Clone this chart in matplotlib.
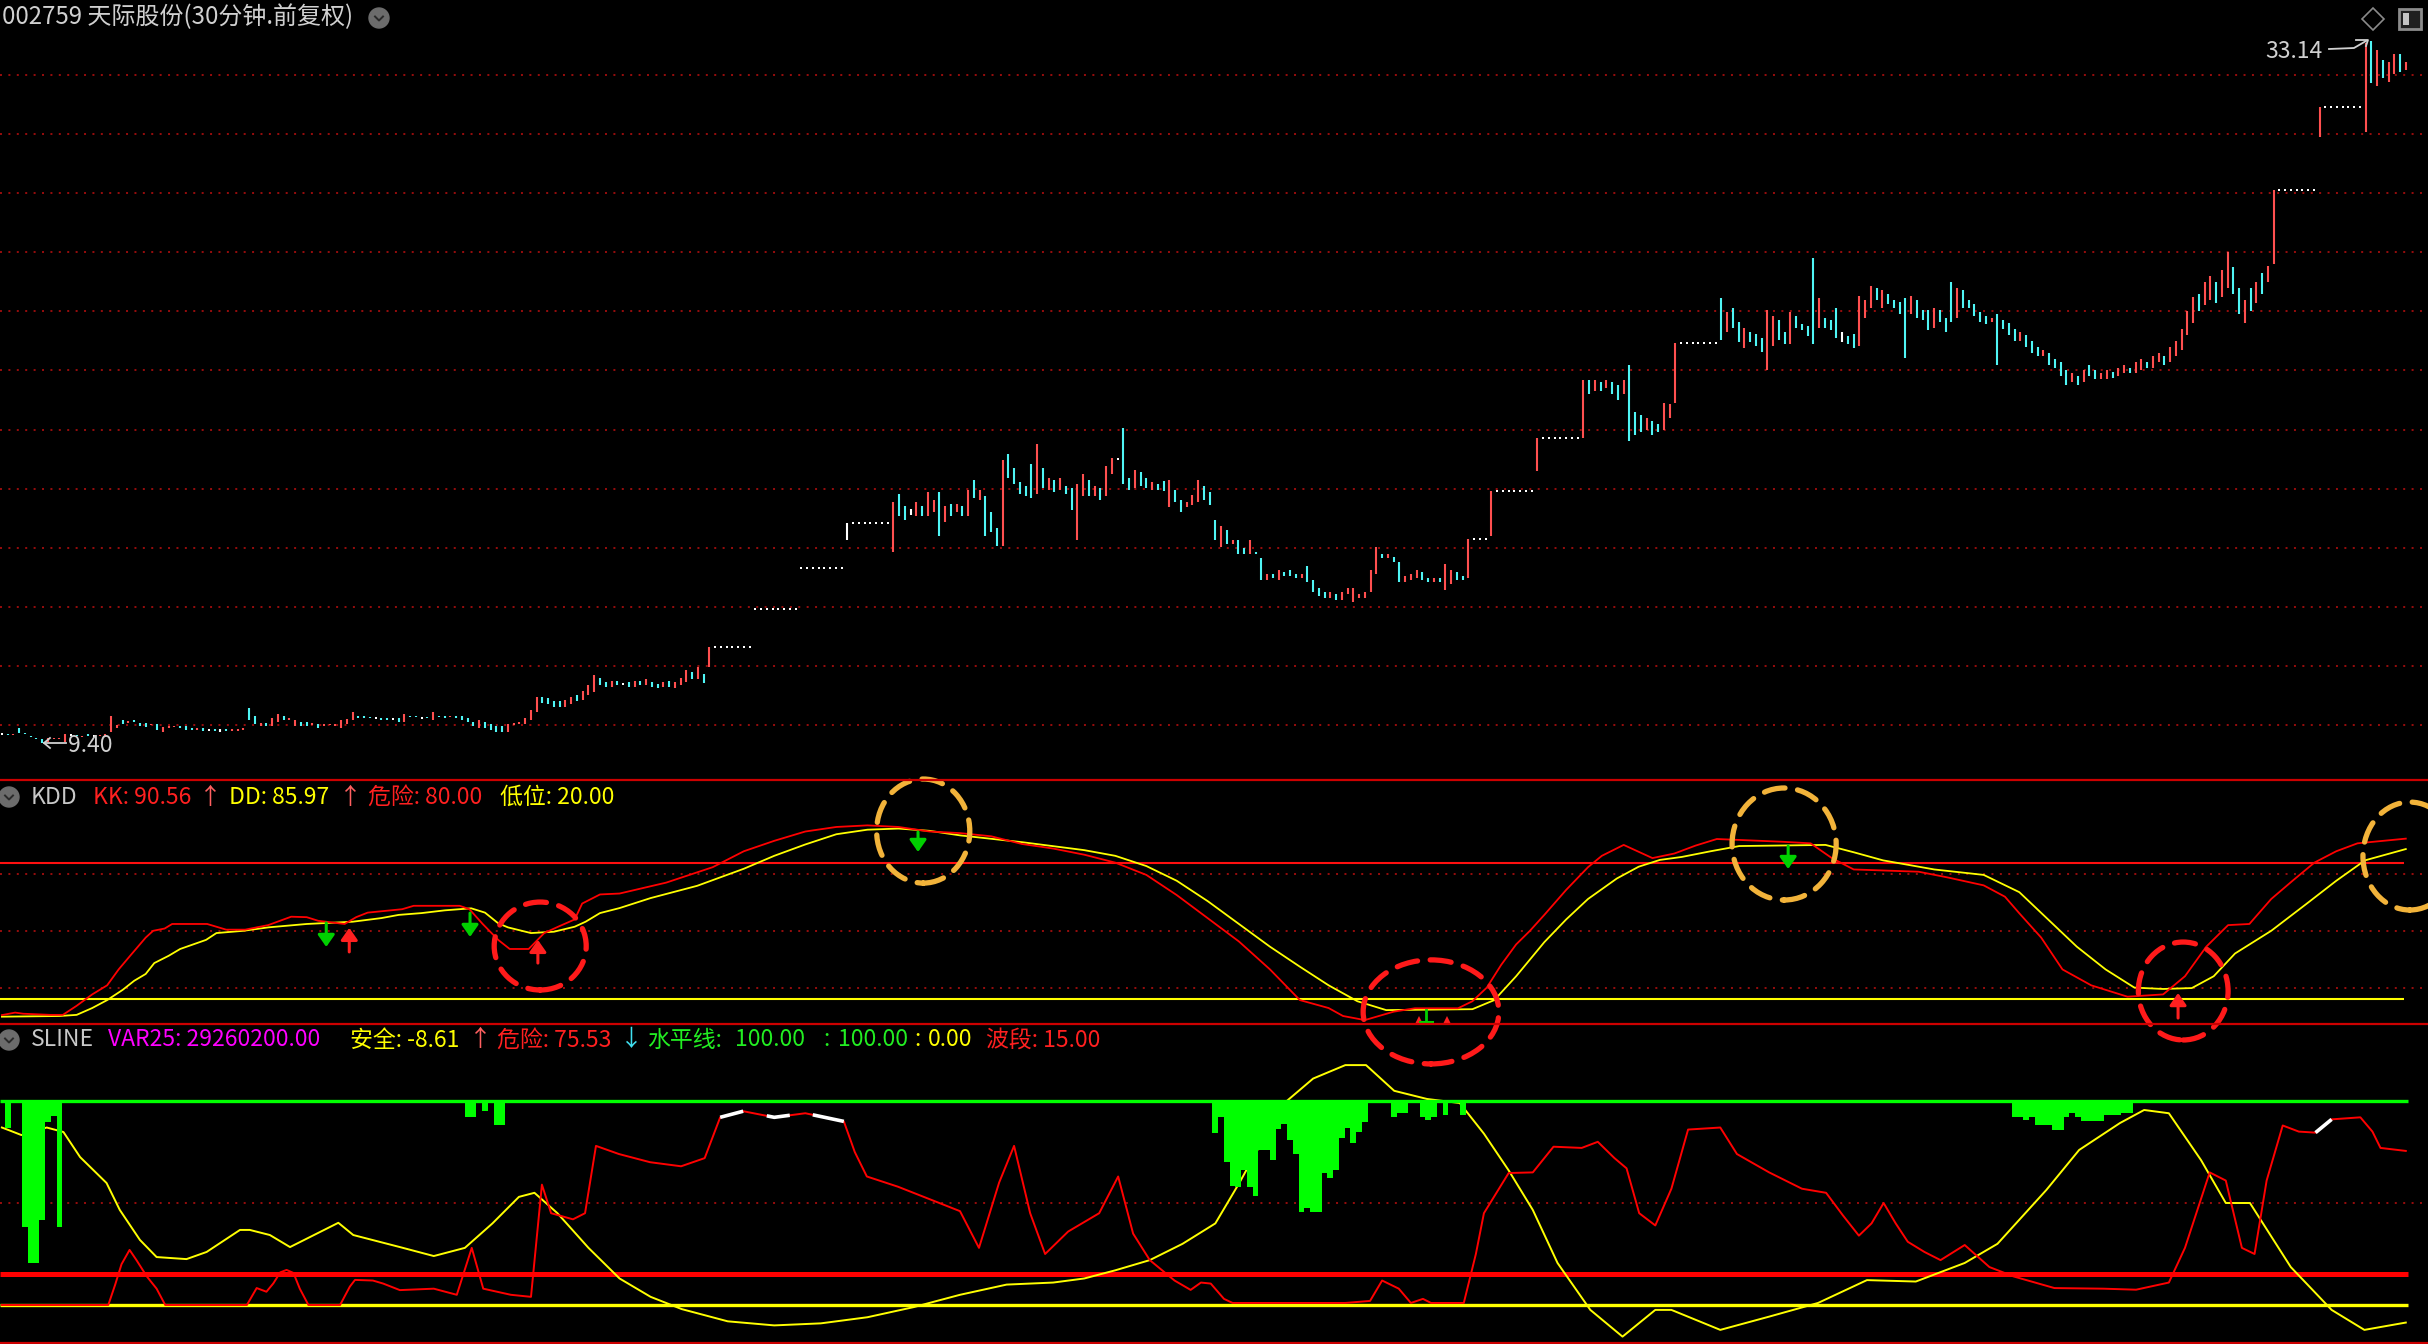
import numpy as np
import matplotlib
matplotlib.use("Agg")
import matplotlib.pyplot as plt
from matplotlib.patches import Ellipse, Circle, Polygon, Rectangle

plt.rcParams['font.family'] = ['Noto Sans CJK SC', 'DejaVu Sans']

# ---------------- data ----------------
title = "002759 天际股份(30分钟.前复权)"
price_grid = [10, 12, 14, 16, 18, 20, 22, 24, 26, 28, 30, 32]
high_label = "33.14"
low_label = "9.40"

bar_low = [
9.70,9.66,9.67,9.73,9.68,9.60,9.53,9.40,9.42,9.52,
9.53,9.42,9.65,9.62,9.60,9.63,9.64,9.62,9.64,9.76,
9.90,10.03,10.07,10.10,9.97,9.93,10.00,9.83,9.76,9.90,
9.92,9.90,9.83,9.84,9.84,9.80,9.84,9.80,9.76,9.80,
9.80,9.80,9.84,10.17,10.03,9.97,9.97,9.97,10.10,10.17,
10.17,9.97,9.97,9.97,10.00,9.90,9.97,10.00,9.97,9.90,
10.05,10.17,10.25,10.24,10.22,10.24,10.17,10.17,10.20,10.10,
10.10,10.27,10.27,10.24,10.22,10.17,10.28,10.24,10.27,10.25,
10.17,10.10,9.97,9.90,9.90,9.83,9.76,9.76,9.76,10.00,
10.03,10.03,10.17,10.44,10.75,10.70,10.60,10.60,10.60,10.70,
10.80,10.85,11.00,11.10,11.35,11.30,11.30,11.35,11.40,11.30,
11.30,11.35,11.35,11.30,11.25,11.30,11.30,11.25,11.35,11.45,
11.55,11.55,11.42,11.96,12.65,12.65,12.65,12.65,12.65,12.65,
12.65,13.92,13.92,13.92,13.92,13.92,13.92,13.92,13.92,15.31,
15.31,15.31,15.31,15.31,15.31,15.31,15.31,16.26,16.84,16.84,
16.84,16.84,16.84,16.84,16.84,15.85,17.07,16.94,17.10,17.07,
17.07,17.07,17.20,16.40,16.87,17.07,17.20,17.07,17.07,17.68,
17.60,16.40,16.53,16.06,16.06,18.36,18.16,17.82,17.75,17.68,
17.82,18.02,17.95,17.89,17.95,17.82,17.28,16.26,17.75,17.75,
17.75,17.61,17.75,18.50,19.00,18.16,17.95,18.02,18.09,18.02,
17.95,17.95,17.92,17.38,17.55,17.20,17.38,17.45,17.55,17.60,
17.45,16.26,16.02,16.13,16.13,15.79,15.79,15.79,15.79,14.90,
14.90,14.97,14.90,15.04,15.04,14.97,14.97,14.84,14.50,14.37,
14.30,14.30,14.23,14.23,14.43,14.16,14.30,14.30,14.50,15.10,
15.65,15.65,15.52,14.84,14.84,14.90,14.97,14.90,14.84,14.84,
14.84,14.57,14.77,14.90,14.90,14.97,16.30,16.30,16.30,16.40,
17.93,17.93,17.93,17.93,17.93,17.93,17.93,18.60,19.72,19.72,
19.72,19.72,19.72,19.72,19.72,19.72,21.20,21.30,21.30,21.40,
21.20,21.00,21.20,19.60,19.80,19.90,20.00,19.80,19.90,20.00,
20.40,20.90,22.93,22.93,22.93,22.93,22.93,22.93,22.93,23.03,
23.30,23.43,22.98,22.76,22.96,22.82,22.62,22.01,22.83,23.03,
22.90,22.90,23.43,23.37,23.16,22.90,23.43,23.43,23.37,23.10,
22.96,22.90,22.76,22.83,23.77,24.11,24.38,24.11,24.25,24.11,
23.91,22.42,23.91,23.77,23.70,23.37,23.43,23.64,23.30,23.64,
23.77,24.11,24.11,23.84,23.64,23.57,23.64,22.20,23.40,23.20,
23.00,23.00,22.80,22.60,22.50,22.50,22.20,22.10,21.80,21.50,
21.60,21.50,21.60,21.80,21.70,21.70,21.70,21.75,21.80,21.90,
21.90,21.90,22.00,22.10,22.10,22.30,22.20,22.30,22.50,22.70,
23.20,23.60,24.00,24.20,24.40,24.30,24.50,24.80,24.60,23.90,
23.60,24.00,24.30,24.60,25.00,25.60,28.10,28.10,28.10,28.10,
28.10,28.10,28.10,29.90,30.91,30.91,30.91,30.91,30.91,30.91,
30.91,30.07,31.72,31.62,31.90,31.76,32.03,32.10,32.17]

bar_high = [
9.70,9.70,9.70,9.90,9.72,9.64,9.57,9.52,9.56,9.56,
9.57,9.70,9.65,9.66,9.64,9.70,9.64,9.66,9.68,10.30,
10.00,10.17,10.12,10.17,10.07,10.07,10.05,10.03,9.93,9.97,
9.96,9.96,9.96,9.90,9.90,9.90,9.84,9.86,9.86,9.86,
9.86,9.86,9.90,10.58,10.30,10.07,10.07,10.24,10.37,10.30,
10.24,10.17,10.10,10.10,10.06,10.03,10.03,10.05,10.03,10.17,
10.20,10.44,10.30,10.30,10.26,10.24,10.24,10.24,10.20,10.24,
10.37,10.30,10.30,10.24,10.26,10.44,10.32,10.30,10.30,10.30,
10.30,10.24,10.10,10.17,10.10,10.03,9.97,9.97,10.03,10.06,
10.10,10.24,10.50,10.95,10.95,10.90,10.80,10.80,10.85,10.95,
11.00,11.15,11.35,11.70,11.60,11.45,11.50,11.50,11.40,11.45,
11.50,11.50,11.55,11.45,11.40,11.45,11.50,11.45,11.60,11.85,
11.80,11.95,11.73,12.65,12.65,12.65,12.65,12.65,12.65,12.65,
12.65,13.92,13.92,13.92,13.92,13.92,13.92,13.92,13.92,15.31,
15.31,15.31,15.31,15.31,15.31,15.31,15.31,16.84,16.84,16.84,
16.84,16.84,16.84,16.84,16.84,17.55,17.82,17.41,17.30,17.55,
17.41,17.89,17.60,17.89,17.41,17.48,17.48,17.41,17.95,18.29,
17.95,17.75,17.20,16.67,18.97,19.17,18.70,18.22,18.09,18.83,
19.50,18.70,18.36,18.29,18.36,18.09,18.02,18.16,18.50,18.29,
18.09,18.02,18.77,19.04,19.00,20.05,18.36,18.63,18.56,18.36,
18.22,18.16,18.25,18.29,17.95,17.60,17.55,17.78,18.29,18.09,
17.90,16.94,16.73,16.60,16.26,16.26,15.99,16.26,15.85,15.65,
15.10,15.10,15.24,15.17,15.24,15.10,15.10,15.38,14.90,14.64,
14.50,14.50,14.43,14.50,14.64,14.64,14.43,14.50,15.24,16.02,
15.79,15.79,15.69,15.52,15.04,15.10,15.24,15.17,14.97,14.97,
14.97,15.45,15.24,15.17,15.04,16.30,16.30,16.30,16.30,17.93,
17.93,17.93,17.93,17.93,17.93,17.93,17.93,19.72,19.72,19.72,
19.72,19.72,19.72,19.72,19.72,21.69,21.69,21.69,21.60,21.69,
21.60,21.50,21.69,22.20,20.60,20.50,20.40,20.30,20.20,20.90,
20.85,22.93,22.93,22.93,22.93,22.93,22.93,22.93,22.93,24.45,
23.98,24.11,23.64,23.43,23.30,23.23,23.10,24.04,23.84,23.70,
23.30,23.98,23.84,23.57,23.50,25.80,24.45,23.77,23.70,24.11,
23.30,23.16,23.23,24.52,24.38,24.86,24.79,24.72,24.59,24.38,
24.31,24.45,24.52,24.38,24.04,24.04,24.11,24.04,23.77,24.99,
24.79,24.72,24.38,24.25,23.98,23.84,23.77,23.90,23.70,23.60,
23.40,23.30,23.20,23.00,22.80,22.70,22.60,22.40,22.30,22.00,
21.90,21.80,22.00,22.20,22.00,21.90,22.00,21.95,22.10,22.20,
22.10,22.30,22.40,22.30,22.50,22.60,22.50,22.80,23.00,23.40,
24.00,24.50,24.60,25.00,25.20,25.00,25.40,26.00,25.50,24.80,
24.40,24.80,25.00,25.30,25.55,28.10,28.10,28.10,28.10,28.10,
28.10,28.10,28.10,30.91,30.91,30.91,30.91,30.91,30.91,30.91,
30.91,33.08,33.14,32.84,32.50,32.44,32.71,32.71,32.44]

# 1 = up (red), -1 = down (cyan), 0 = flat (white)
bar_dir = [
0,-1,1,-1,-1,-1,-1,-1,1,1,
1,1,0,-1,1,-1,0,1,1,1,
1,-1,1,-1,-1,-1,1,-1,1,1,
1,-1,-1,-1,1,-1,0,-1,0,-1,
1,1,1,-1,-1,1,-1,1,1,-1,
1,1,-1,-1,1,-1,1,1,1,1,
1,1,-1,-1,-1,0,-1,-1,0,-1,
1,-1,-1,0,-1,1,-1,-1,1,-1,
-1,-1,-1,1,-1,-1,-1,-1,1,1,
1,1,1,1,-1,-1,-1,-1,1,1,
-1,1,1,1,-1,-1,1,-1,0,-1,
1,-1,1,-1,-1,1,-1,1,1,1,
-1,1,-1,1,0,0,0,0,0,0,
0,0,0,0,0,0,0,0,0,0,
0,0,0,0,0,0,0,0,0,0,
0,0,0,0,0,1,-1,-1,0,1,
-1,1,1,-1,1,-1,1,-1,1,-1,
1,-1,-1,-1,1,-1,-1,-1,-1,-1,
1,-1,1,-1,1,-1,-1,1,1,-1,
1,-1,1,1,0,-1,-1,1,-1,-1,
1,-1,-1,1,-1,-1,1,1,1,-1,
-1,-1,1,-1,1,-1,-1,1,-1,-1,
1,-1,1,-1,-1,-1,1,-1,-1,-1,
-1,1,-1,1,1,1,1,1,1,1,
-1,1,-1,-1,1,1,1,-1,-1,1,
-1,1,1,-1,-1,1,0,0,0,1,
0,0,0,0,0,0,0,1,0,0,
0,0,0,0,0,1,-1,1,-1,1,
-1,-1,1,-1,-1,-1,1,-1,-1,1,
1,1,0,0,0,0,0,0,0,-1,
1,-1,-1,1,-1,-1,-1,1,1,-1,
-1,1,-1,-1,-1,-1,1,-1,-1,-1,
0,-1,-1,1,1,1,-1,1,-1,-1,
-1,-1,1,-1,-1,-1,1,-1,-1,-1,
1,-1,-1,-1,-1,-1,1,-1,-1,-1,
-1,1,-1,-1,-1,1,-1,-1,-1,-1,
1,-1,1,-1,-1,1,1,-1,1,1,
-1,1,1,-1,1,1,-1,1,1,1,
1,1,-1,1,1,-1,1,1,-1,-1,
1,-1,1,-1,1,1,0,0,0,0,
0,0,0,1,0,0,0,0,0,0,
0,1,-1,1,-1,1,1,-1,1]

# KDD indicator (x = bar index)
kk_x = [0,2.3,3.7,8.4,10.6,13,15.7,18.3,20.3,22.3,25,26.3,28.3,29.6,35.7,39,42.3,46.3,49,50.3,53,55,59.6,61.6,63.6,
        69.6,71.6,79.6,81.3,83.6,86.3,88.3,91.6,94.3,96.9,99.6,100.9,104,107.4,115.5,123.6,129,134.3,139.7,145.1,
        150.5,155.9,161.3,166.6,172,177.4,182.8,188.2,193.6,199,204.3,209.7,215.1,220.5,225.7,230.7,233.2,237,242,
        245.7,253.2,255.7,258.2,260.7,263.3,265.7,268.2,272,275.8,278.2,282,287,290.8,294.5,298.2,309.5,314.5,318.2,
        322,333.3,338.3,344.6,348.3,350.8,354.6,358.3,363.3,369.6,375.8,379.6,383.3,387.1,390.8,394.6,398.3,402.1,
        405.9,409.6,418]
kk_v = [12.9,14,13.5,13,13,17,22,26,33,39,47,50,51,53,53,50.5,50.5,52.5,55,56.2,56,54.4,53,56,58,
        59.5,61,61,59.5,53,46,42,42,49,52,55,62,66,66.4,71.2,78,85,89.6,93.7,95.7,
        96.4,95.7,93.7,93,91.6,88.2,86.2,83.5,80,74.6,65.7,55.5,45.3,33,19.5,16,12.5,10.7,14.4,
        15.9,15.9,19,25,35,44,50,57,68,78,83,87.8,82,84,87.5,90.4,89.2,88.5,82,
        77,76,73.5,70,65,57.7,47,33,26,21,22,30,43,52.5,53,64,72,80,
        85,88.5,90.56]
dd_x = [0,10,13,15.7,18.3,21,23,25,26.5,29,31,35.5,37.3,42,46.3,53,61,66,69,73,77,81.6,84,86.3,88,92,96,
        99.6,101.5,104,107.4,112.8,120.9,129,134.3,139.7,145.1,150.5,155.9,161.3,166.6,177.4,188.2,193.6,199,
        204.3,209.7,215.1,220.5,225.7,230.7,235.7,240.7,255.7,259.5,263.3,268.2,272,275.8,280.8,284.6,288.3,292.1,
        297.1,302.1,317.1,322.1,327.1,336,344.6,350.8,355.8,360.8,365.8,370.8,375.8,380.8,384.6,388.3,394.6,
        400.8,405.9,410.9,418]
dd_v = [12.2,12.5,13,16,19.5,24,28,31,35.8,39,42,46,49,50,51.5,53,54,55.6,57,57.8,59,59.9,58,53.3,51.5,49,49.6,
        51.8,54,57.8,60,64.4,69.8,77.3,83,88,92.5,94.5,95,94,92,89,85.5,83,78.5,
        72,63,53,43,34.2,26,19,15.1,15.5,19.5,30,45,55,64,73,78.2,81.2,82.5,
        85,87.3,87.8,84.5,81,77,74.6,67,55,43,33,25,24.4,24.8,30,40,50,
        62,72,81,85.97]
kdd_danger, kdd_low = 80, 20
kdd_dotted = [75, 50, 25]

# KDD signal arrows: (bar, tail value, tip value)
sig_dn_x = [56.4, 81.4, 159.3, 310.6]
sig_dn_tail = [53.5, 57.8, 93.5, 87.3]
sig_dn_tip = [42.9, 47.3, 84.7, 77.2]
sig_up_x = [60.4, 93.2, 378.4]
sig_up_tail = [40.7, 35.8, 11.6]
sig_up_tip = [51.3, 46.0, 22.6]
mini_up_x = [246.4, 251.3]
mini_up_v = [10.6, 10.6]
mini_dn_x = [247.6]
mini_dn_top = [15.1]
mini_dn_tip = [9.8]

# highlight rings on KDD: (bar centre, value centre, width in bars, height in value units)
ring_x = [93.6, 160.2, 248.5, 309.9, 379.3, 418.7]
ring_v = [43.3, 93.9, 14.3, 88.2, 23.5, 82.9]
ring_w = [16.0, 16.2, 23.6, 18.1, 15.6, 16.3]
ring_h = [38.7, 45.8, 45.8, 49.3, 43.1, 47.5]
ring_color = ['#ff1a1a', '#f2b33a', '#ff1a1a', '#f2b33a', '#ff1a1a', '#f2b33a']

# SLINE indicator
sl_red_x = [0,18.5,19.7,20.8,22.2,23.4,25.2,26.9,28.4,42.6,44.3,46,47.2,48.4,49.5,50.7,51.8,53.3,58.8,60.5,61.4,
            64.5,66.3,69.2,75.1,79.1,81.7,83.7,88.5,92,93.9,95.5,99.3,101.4,103.3,107.3,112.7,118.1,122.2,124.9,
            128.9,134.3,139.7,146.4,148.3,150.4,155.8,161.2,166.6,169.9,173.4,176,178.8,181.4,185.4,190.8,194.1,
            196.7,199.6,203.9,206.7,208.5,210.2,212.5,214,233.6,237.9,240,242.9,245,247.1,248.5,254.2,256.3,257.7,
            262,266.2,269.8,274.7,277.5,280.4,282.5,284.7,287.5,290.3,293.2,298.8,301.7,307.3,313,317.2,320.1,
            322.9,325.1,327.2,329.3,331.4,334.3,337.1,341.3,345.6,349.8,356.9,365.4,371.1,376.8,379.6,383.9,
            386.7,389.5,391.7,393.8,396.6,399.4,402.3,405.1,410.1,412.2,413.6,418]
sl_red_v = [0,0,10,20,27,22,14,8,0,0,8.3,6.5,10.6,16,17.2,15.7,8,0,0,9,12.3,
            12,10.5,7.3,8,5,28,8,5,4,59,45,42,45,78,74,70,68,72,92,
            95,92,94,90,75,63,58,52,46,28,60,78,45,25,36,45,63,
            35,22,12,7.4,11,10.5,3,1,1,2,12,8,1,3,1,1,25,45,
            64.7,65,77.6,77,80,72,67,45,39,57,86,87,74,65,57,55,44,
            34,40,50,40,31,26,22,29.4,18.6,14,8.3,8,7.5,11,28,65,
            61,28,25,61,88,85,84.5,91,92,85,77,75.53]
sl_yel_x = [0,1.4,3.4,7.8,10.7,13.6,18.2,20.5,24,26.9,32.1,35.6,41.4,43.1,46.6,50.1,58.5,61.1,69.2,75.1,80.5,
            85.3,89.9,92.6,96.6,102,107.4,112.8,118.2,126.2,134.3,142.4,150.5,158.6,166.6,174.7,182.8,188.2,
            193.6,199.6,205.3,211,215.2,219.5,223,228,233.6,237.2,242.1,247.8,253.5,257.7,262,266.2,270.5,
            276.2,281.8,287.5,290.3,298.8,307.3,315.8,324.3,332.8,341.3,347,355.5,361.2,368.3,372.5,376.8,
            382.4,386.7,390.9,398,405.1,410.8,418]
sl_yel_v = [87,85.5,83.3,87,84.8,72.5,59.8,46.6,31.9,23.5,22.5,26,36.8,36.8,34.3,28.4,40.3,34.3,28.4,24,28,
            40,53,55,45,28,13,4,-2,-8,-10,-9,-6,-1,5,10,11,13,
            17,22,30,40,60,82,99,111,117.6,117.6,105,101,99,84,66,46.6,20.6,
            -2.4,-15.5,-2.4,-2.4,-12.2,-5.7,1,12.2,11.5,20.6,30,56.4,76,89.2,95.6,94,
            71,50,50,18.6,-2.4,-12.2,-8.61]
sl_white_ranges = [(124.9, 128.9), (133.0, 137.0), (141.0, 146.4), (402.3, 405.1)]
sl_bar_x = [1,4,5,6,7,8,9,10, 81,82,84,86,87,
            211,212,213,214,215,216,217,218,219,220,221,222,223,224,225,226,227,228,229,230,231,232,233,234,235,236,237,
            242,243,244,247,248,249,251,254,
            350,351,352,353,354,355,356,357,358,359,360,361,362,363,364,365,366,367,368,369,370]
sl_bar_v = [87,38,20.6,20.6,41.7,89.7,92.6,38, 92,92,95,88,88,
            84.3,92.3,70,58.5,57.7,66,57.7,53.2,75.8,75.8,70.9,86.4,88.9,80.7,74.2,45.7,47.5,45.7,45.7,64.7,62.2,66.2,81.9,86.8,79.4,84.8,89.7,
            92.2,94,94,92.2,90.6,92.2,93,93,
            92,92,90.5,92,88,88,88,86,86,92,94,92,90,90,90,90,93,93,93,94,94]
sl_level_top, sl_level_mid, sl_level_band, sl_level_zero = 100, 50, 15, 0

if not (len(bar_low) == len(bar_high) == len(bar_dir)):
    raise SystemExit("bar lengths %d %d %d" % (len(bar_low), len(bar_high), len(bar_dir)))

# ---------------- figure ----------------
W, H = 2428, 1344
fig = plt.figure(figsize=(W / 100, H / 100), dpi=100, facecolor='black')
XLIM = (-0.33, 421.86)
N = len(bar_low)
RED = '#ff4f4f'
CYAN = '#4ff5f5'
GRIDC = '#c01010'
DOT = (0, (1.3, 4.2))


def panel(top, bottom, ylim):
    ax = fig.add_axes([0, 1 - bottom / H, 1, (bottom - top) / H])
    ax.set_xlim(*XLIM)
    ax.set_ylim(*ylim)
    ax.axis('off')
    return ax


# ---- main price panel ----
axp = panel(0, 780, (8.138, 34.539))
for p in price_grid:
    axp.axhline(p, color=GRIDC, lw=1.1, ls=DOT)
x = np.arange(N)
lo = np.array(bar_low)
hi = np.array(bar_high)
dr = np.array(bar_dir)
cmap = {1: RED, -1: CYAN, 0: '#ffffff'}
rng = hi > lo
cols = [cmap[d] for d in dr[rng]]
axp.vlines(x[rng], lo[rng], hi[rng], colors=cols, lw=1.5)
flat = ~rng
axp.plot(x[flat], lo[flat], 's', ms=1.6, mew=0, color='#ffffff', ls='none')

# ---- KDD panel ----
axk = panel(780, 1024, (8.98, 116.37))
for lv in kdd_dotted:
    axk.axhline(lv, color=GRIDC, lw=1.1, ls=DOT)
axk.hlines(kdd_danger, XLIM[0], 417.7, color='#ff1010', lw=1.5)
axk.hlines(kdd_low, XLIM[0], 417.7, color='#ffff00', lw=1.5)
axk.plot(dd_x, dd_v, color='#ffff00', lw=1.3)
axk.plot(kk_x, kk_v, color='#ff0000', lw=1.3)
for xs, t0, t1 in zip(sig_dn_x, sig_dn_tail, sig_dn_tip):
    axk.annotate('', xy=(xs, t1), xytext=(xs, t0),
                 arrowprops=dict(arrowstyle='-|>,head_length=0.6,head_width=0.42', color='#00d000',
                                 lw=2.2, mutation_scale=12, shrinkA=0, shrinkB=0))
for xs, t0, t1 in zip(sig_up_x, sig_up_tail, sig_up_tip):
    axk.annotate('', xy=(xs, t1), xytext=(xs, t0),
                 arrowprops=dict(arrowstyle='-|>,head_length=0.6,head_width=0.42', color='#ff2020',
                                 lw=2.2, mutation_scale=12, shrinkA=0, shrinkB=0))
axk.plot(mini_up_x, mini_up_v, '^', color='#ff2020', ms=6, mew=0)
for xs, t0, t1 in zip(mini_dn_x, mini_dn_top, mini_dn_tip):
    axk.plot([xs, xs], [t0, t1], color='#00d000', lw=2)
    axk.plot([xs - 1.0, xs + 1.0], [t1, t1], color='#00d000', lw=2.2)
for cx, cy, w, h, c in zip(ring_x, ring_v, ring_w, ring_h, ring_color):
    e = Ellipse((cx, cy), w, h, fill=False, edgecolor=c, lw=3.8, ls=(0, (4.0, 2.4)), clip_on=False, zorder=5)
    e.set_capstyle('round')
    axk.add_patch(e)

# ---- SLINE panel ----
axs = panel(1024, 1344, (-19.12, 137.75))
axs.axhline(sl_level_mid, color=GRIDC, lw=1.1, ls=DOT)
axs.hlines(sl_level_band, XLIM[0], 418.4, color='#ff0000', lw=3.6)
axs.hlines(sl_level_zero, XLIM[0], 418.4, color='#ffff00', lw=2.4)
axs.plot(sl_yel_x, sl_yel_v, color='#ffff00', lw=1.4)
axs.plot(sl_red_x, sl_red_v, color='#ff0000', lw=1.4)
rx = np.array(sl_red_x)
rv = np.array(sl_red_v)
for a, b in sl_white_ranges:
    m = (rx > a) & (rx < b)
    xs = np.concatenate([[a], rx[m], [b]])
    ys = np.interp(xs, rx, rv)
    axs.plot(xs, ys, color='#ffffff', lw=2.6, solid_capstyle='butt')
bv = np.array(sl_bar_v)
axs.bar(sl_bar_x, sl_level_top - bv, bottom=bv, width=1.0, color='#00ff00', linewidth=0, zorder=3)
axs.hlines(sl_level_top, XLIM[0], 418.4, color='#00ff00', lw=2.4, zorder=4)

# ---- overlay: frame lines, texts, icons ----
ov = fig.add_axes([0, 0, 1, 1], zorder=10)
ov.set_xlim(0, W)
ov.set_ylim(H, 0)
ov.axis('off')
ov.patch.set_alpha(0)
for yy in (780, 1024, 1342.5):
    ov.plot([0, W], [yy, yy], color='#cc0000', lw=1.6)


def icon(cx, cy):
    ov.add_patch(Circle((cx, cy), 10, color='#6c6c6c'))
    ov.plot([cx - 4, cx, cx + 4], [cy - 1.5, cy + 2.5, cy - 1.5], color='#2a2a2a', lw=1.4)


FS = 16.5
ov.text(2, 17, title, color='#d0d0d0', fontsize=17.3, va='center', ha='left')
icon(379, 18)
# top-right icons
ov.add_patch(Polygon([(2373, 8), (2384, 19), (2373, 30), (2362, 19)], closed=True, fill=False,
                     edgecolor='#8a8a8a', lw=1.2))
ov.add_patch(Rectangle((2399, 9), 22, 20, facecolor='#202020', edgecolor='#8c8c8c', lw=2))
ov.add_patch(Rectangle((2403, 13), 6, 12, facecolor='#c4c4c4', edgecolor='none'))

# price labels
ov.text(2323, 51, high_label, color='#d0d0d0', fontsize=FS, va='center', ha='right')
ov.plot([2329, 2354, 2366], [49, 48, 41], color='#d0d0d0', lw=1.3)
ov.plot([2356, 2368, 2366], [40, 40, 46], color='#d0d0d0', lw=1.3)
ov.text(68, 745, low_label, color='#d0d0d0', fontsize=FS, va='center', ha='left')
ov.plot([44, 66], [743, 743], color='#d0d0d0', lw=1.3)
ov.plot([50, 44, 50], [738, 743, 748], color='#d0d0d0', lw=1.3)

# KDD title row
yk = 797
icon(9, yk)
ov.text(31, yk, 'KDD', color='#c8c8c8', fontsize=FS, va='center')
ov.text(93, yk, 'KK: 90.56', color='#ff2020', fontsize=FS, va='center')
ov.text(199, yk, '↑', color='#ff6060', fontsize=FS, va='center')
ov.text(229, yk, 'DD: 85.97', color='#ffff00', fontsize=FS, va='center')
ov.text(339, yk, '↑', color='#ff6060', fontsize=FS, va='center')
ov.text(368, yk, '危险: 80.00', color='#ff2020', fontsize=FS, va='center')
ov.text(500, yk, '低位: 20.00', color='#ffff00', fontsize=FS, va='center')

# SLINE title row
ys = 1040
icon(9, ys)
ov.text(31, ys, 'SLINE', color='#c8c8c8', fontsize=FS, va='center')
ov.text(108, ys, 'VAR25: 29260200.00', color='#ff00ff', fontsize=FS, va='center')
ov.text(350, ys, '安全: -8.61', color='#ffff00', fontsize=FS, va='center')
ov.text(469, ys, '↑', color='#ff6060', fontsize=FS, va='center')
ov.text(497, ys, '危险: 75.53', color='#ff2020', fontsize=FS, va='center')
ov.text(620, ys, '↓', color='#40e0f0', fontsize=FS, va='center')
ov.text(647, ys, '水平线:', color='#22ee22', fontsize=FS, va='center')
ov.text(735, ys, '100.00', color='#22ee22', fontsize=FS, va='center')
ov.text(823, ys, ':', color='#22ee22', fontsize=FS, va='center')
ov.text(838, ys, '100.00', color='#22ee22', fontsize=FS, va='center')
ov.text(914, ys, ':', color='#ffff00', fontsize=FS, va='center')
ov.text(928, ys, '0.00', color='#ffff00', fontsize=FS, va='center')
ov.text(986, ys, '波段: 15.00', color='#ff2020', fontsize=FS, va='center')

fig.savefig('out.png', dpi=100, facecolor='black')
